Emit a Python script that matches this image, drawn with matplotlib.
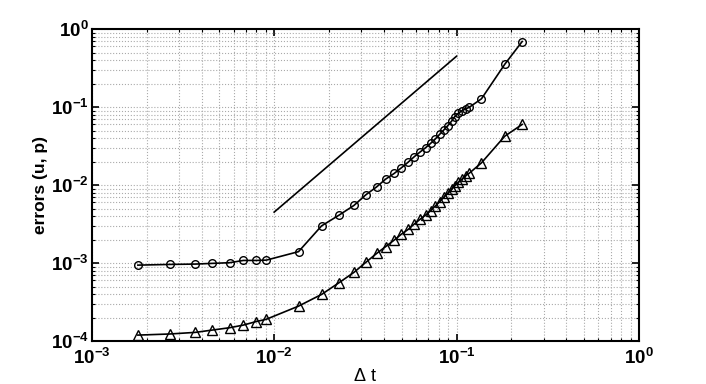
import matplotlib
matplotlib.use("Agg")
import matplotlib.pyplot as plt
from matplotlib.ticker import LogLocator, FixedLocator, NullFormatter, FuncFormatter
import numpy as np

plt.rcParams['font.family'] = ['Liberation Sans', 'DejaVu Sans']
plt.rcParams['mathtext.fontset'] = 'custom'
plt.rcParams['mathtext.rm'] = 'Liberation Sans'
plt.rcParams['mathtext.bf'] = 'Liberation Sans:bold'
plt.rcParams['mathtext.it'] = 'Liberation Sans:italic'

# time steps (shared by both error curves)
dt = [1.79e-3, 2.68e-3, 3.70e-3, 4.57e-3, 5.70e-3, 6.78e-3, 7.93e-3, 9.06e-3,
      1.36e-2, 1.82e-2, 2.27e-2, 2.74e-2, 3.18e-2, 3.65e-2, 4.08e-2, 4.55e-2,
      4.99e-2, 5.43e-2, 5.86e-2, 6.30e-2, 6.76e-2, 7.20e-2, 7.64e-2, 8.07e-2,
      8.50e-2, 8.93e-2, 9.40e-2, 9.75e-2, 0.102, 0.107, 0.112, 0.117, 0.137,
      0.184, 0.229]
err_u = [9.4e-4, 9.6e-4, 9.7e-4, 9.9e-4, 1.01e-3, 1.08e-3, 1.08e-3, 1.09e-3,
         1.40e-3, 3.0e-3, 4.12e-3, 5.49e-3, 7.5e-3, 9.5e-3, 1.19e-2, 1.41e-2,
         1.67e-2, 1.97e-2, 2.31e-2, 2.65e-2, 3.01e-2, 3.42e-2, 3.89e-2, 4.47e-2,
         5.07e-2, 5.75e-2, 6.62e-2, 7.5e-2, 8.3e-2, 8.97e-2, 9.5e-2, 9.9e-2,
         0.128, 0.356, 0.695]
err_p = [1.19e-4, 1.23e-4, 1.29e-4, 1.38e-4, 1.48e-4, 1.60e-4, 1.77e-4, 1.90e-4,
         2.80e-4, 3.96e-4, 5.6e-4, 7.6e-4, 1.02e-3, 1.33e-3, 1.62e-3, 1.97e-3,
         2.35e-3, 2.70e-3, 3.16e-3, 3.63e-3, 4.12e-3, 4.69e-3, 5.38e-3, 6.1e-3,
         6.95e-3, 7.8e-3, 8.8e-3, 9.7e-3, 1.08e-2, 1.19e-2, 1.32e-2, 1.41e-2,
         1.93e-2, 4.25e-2, 6.0e-2]
# slope-2 reference line
ref_x = [1e-2, 1e-1]
ref_y = [4.5e-3, 0.45]

fig = plt.figure(figsize=(7.06, 3.84), dpi=100)
ax = fig.add_axes([0.130, 0.112, 0.775, 0.812])

ax.loglog(ref_x, ref_y, color='black', lw=1.2)
ax.loglog(dt, err_u, '-o', color='black', lw=1.2, ms=5.5, mfc='none', mew=1.0)
ax.loglog(dt, err_p, '-^', color='black', lw=1.2, ms=6.5, mfc='none', mew=1.0)

ax.set_xlim(1e-3, 1)
ax.set_ylim(1e-4, 1)
ax.xaxis.set_major_locator(FixedLocator([1e-3, 1e-2, 1e-1, 1]))
ax.yaxis.set_major_locator(FixedLocator([1e-4, 1e-3, 1e-2, 1e-1, 1]))
ax.xaxis.set_minor_locator(LogLocator(base=10, subs=np.arange(2, 10), numticks=20))
ax.yaxis.set_minor_locator(LogLocator(base=10, subs=np.arange(2, 10), numticks=20))
ax.xaxis.set_minor_formatter(NullFormatter())
ax.yaxis.set_minor_formatter(NullFormatter())
fmt = FuncFormatter(lambda v, p: r"$\mathbf{10^{%d}}$" % int(round(np.log10(v))))
ax.xaxis.set_major_formatter(fmt)
ax.yaxis.set_major_formatter(fmt)

ax.grid(True, which='both', ls=':', color='#aaaaaa', lw=0.8)
ax.tick_params(which='both', direction='in', top=True, right=True, labelsize=13.5)
ax.tick_params(which='major', length=5, width=1.2)
ax.tick_params(axis='x', which='major', pad=5)
ax.tick_params(axis='y', which='major', pad=2)
ax.tick_params(which='minor', length=2.5, width=0.8)
for s in ax.spines.values():
    s.set_linewidth(1.5)

ax.set_xlabel(r"$\Delta$ t", fontsize=13, labelpad=0)
ax.set_ylabel("errors (u, p)", fontsize=12.5, fontweight='bold', labelpad=2)

fig.savefig("out.png", dpi=100)
